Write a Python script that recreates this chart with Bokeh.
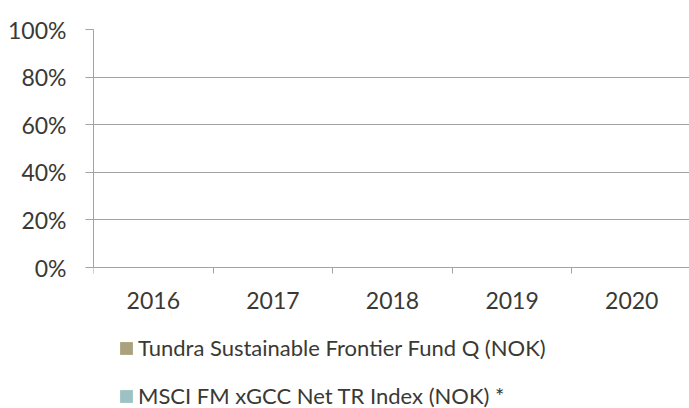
from bokeh.plotting import figure
from bokeh.models import (ColumnDataSource, FixedTicker, NumeralTickFormatter,
                          Legend, LegendItem, Range1d)
from bokeh.embed import file_html
from bokeh.resources import INLINE

years = ["2016", "2017", "2018", "2019", "2020"]
fund_values = [0.0, 0.0, 0.0, 0.0, 0.0]
index_values = [0.0, 0.0, 0.0, 0.0, 0.0]
fund_name = "Tundra Sustainable Frontier Fund Q (NOK)"
index_name = "MSCI FM xGCC Net TR Index (NOK) *"
y_ticks = [0, 0.2, 0.4, 0.6, 0.8, 1.0]

FUND_COLOR = "#a9a27c"
INDEX_COLOR = "#9cc2c3"
GRID = "#a3a3a3"
TEXT = "#3a3934"
FONT = "Lato"
FS = "23px"
LEG_FS = "22px"

W, H = 689, 408
LEFT, TOP = 93, 29
ZERO_Y = 267  # pixel row of the 0% line
span = ZERO_Y - TOP
y_start = -(H - ZERO_Y) / span

centers = [i + 0.5 for i in range(len(years))]
bounds = [i for i in range(len(years) + 1)]
src = ColumnDataSource(dict(
    xf=[c - 0.18 for c in centers], xi=[c + 0.18 for c in centers],
    fund=fund_values, idx=index_values))

p = figure(width=W, height=H, output_backend="svg", toolbar_location=None,
           x_range=Range1d(0, 4.983), y_range=Range1d(y_start, 1),
           min_border_left=LEFT, min_border_right=0, min_border_top=TOP,
           min_border_bottom=0)
p.outline_line_color = None

rf = p.vbar(x="xf", top="fund", width=0.34, source=src, fill_color=FUND_COLOR,
            line_color=None)
ri = p.vbar(x="xi", top="idx", width=0.34, source=src, fill_color=INDEX_COLOR,
            line_color=None)

# x axis, pinned at 0
xa = p.xaxis[0]
xa.fixed_location = 0
xa.ticker = FixedTicker(ticks=centers, minor_ticks=bounds)
xa.major_label_overrides = {c: y for c, y in zip(centers, years)}
xa.major_tick_line_color = None
xa.major_tick_out = 0
xa.major_tick_in = 0
xa.minor_tick_out = 6
xa.minor_tick_in = 0
xa.minor_tick_line_color = GRID
xa.axis_line_color = GRID
xa.major_label_standoff = 18
xa.major_label_text_font = FONT
xa.major_label_text_font_size = FS
xa.major_label_text_color = TEXT

# y axis
ya = p.yaxis[0]
ya.ticker = FixedTicker(ticks=y_ticks)
ya.formatter = NumeralTickFormatter(format="0%")
ya.bounds = (0, 1)
ya.major_tick_out = 8
ya.major_tick_in = 0
ya.minor_tick_line_color = None
ya.major_tick_line_color = GRID
ya.axis_line_color = GRID
ya.major_label_standoff = 19
ya.major_label_text_font = FONT
ya.major_label_text_font_size = FS
ya.major_label_text_color = TEXT

p.xgrid.grid_line_color = None
p.ygrid.ticker = FixedTicker(ticks=y_ticks)
p.ygrid.grid_line_color = GRID
p.ygrid.grid_line_width = 1

legend = Legend(items=[LegendItem(label=fund_name, renderers=[rf]),
                       LegendItem(label=index_name, renderers=[ri])],
                location=(25, -1), orientation="vertical",
                glyph_width=16, glyph_height=16, label_standoff=4,
                spacing=21, padding=0, margin=0,
                border_line_color=None, background_fill_alpha=0,
                label_text_font=FONT, label_text_font_size=LEG_FS,
                label_text_color=TEXT)
p.add_layout(legend, "center")

open("out.html", "w").write(file_html(p, INLINE))
